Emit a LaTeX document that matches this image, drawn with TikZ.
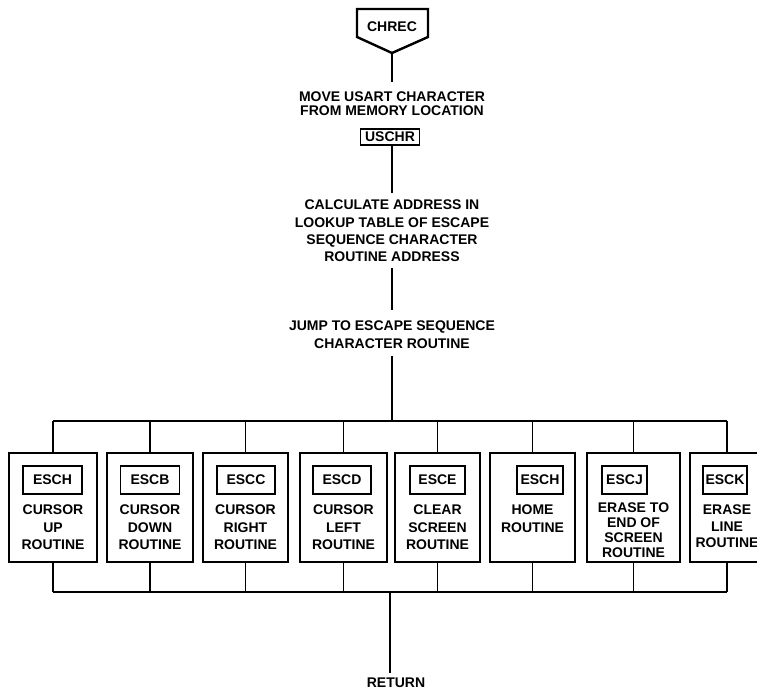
\documentclass[tikz,border=0pt]{standalone}
\usepackage{fontspec}
\setmainfont{Liberation Sans}
\usetikzlibrary{calc}
\begin{document}
\begin{tikzpicture}[x=1pt,y=-1pt,
  lbl/.style={font=\bfseries\fontsize{14}{17.3}\selectfont, align=center, inner sep=0pt, anchor=north},
  wire/.style={line width=1.4pt},
  routinebox/.style={draw, line width=2.8pt, minimum height=109pt, inner sep=0pt},
  tagbox/.style={draw, line width=1.8pt, minimum height=28pt, inner sep=0pt,
    font=\bfseries\fontsize{14}{17}\selectfont},
]
\useasboundingbox (0,0) rectangle (757,692);
\clip (0,0) rectangle (757,692);

% entry point
\node[font=\bfseries\fontsize{14}{17}\selectfont, inner sep=0pt] (chrec) at (392,27) {CHREC};
\draw[line width=2.4pt, line join=miter]
  ($(chrec)+(-35,-18)$) -- ($(chrec)+(36,-18)$) -- ($(chrec)+(36,10)$)
  -- ($(chrec)+(0,26)$) -- ($(chrec)+(-35,10)$) -- cycle;
\coordinate (chrecTip) at ($(chrec)+(0,26)$);

% processing steps
\node[lbl, font=\bfseries\fontsize{14}{13.8}\selectfont] (move) at (392,92)
  {MOVE USART CHARACTER\\FROM MEMORY LOCATION};
\node[tagbox, minimum width=59pt, minimum height=16pt, line width=1.6pt] (uschr) at (390,137) {USCHR};
\node[lbl] (calc) at (392,200)
  {CALCULATE ADDRESS IN\\LOOKUP TABLE OF ESCAPE\\SEQUENCE CHARACTER\\ROUTINE ADDRESS};
\node[lbl] (jump) at (392,321) {JUMP TO ESCAPE SEQUENCE\\CHARACTER ROUTINE};

\draw[wire, shorten >=10pt] (chrecTip) -- (move.north);
\draw[wire, shorten >=7pt] (uschr.south -| chrecTip) -- (calc.north);
\draw[wire, shorten <=6pt, shorten >=11pt] (calc.south) -- (jump.north);

% routine boxes
\foreach \n/\cx/\w/\tx/\tw/\tag/\ty/\ls/\txt in {
  1/53/88/52.5/59/ESCH/505/17.5/{CURSOR\\UP\\ROUTINE},
  2/150/86/150/59/ESCB/505/17.5/{CURSOR\\DOWN\\ROUTINE},
  3/245.5/85/246/58/ESCC/505/17.5/{CURSOR\\RIGHT\\ROUTINE},
  4/343.5/87/342/58/ESCD/505/17.5/{CURSOR\\LEFT\\ROUTINE},
  5/437.5/85/437.5/55/ESCE/505/17.5/{CLEAR\\SCREEN\\ROUTINE},
  6/532.5/85/540/46/ESCH/505/17.5/{HOME\\ROUTINE},
  7/633.5/93/624.5/45/ESCJ/503/14.7/{ERASE TO\\END OF\\SCREEN\\ROUTINE},
  8/727/74/725/44/ESCK/505/16.5/{ERASE\\LINE\\ROUTINE}} {
  \node[routinebox, minimum width=\w pt] (b\n) at (\cx,507.5) {};
  \node[tagbox, minimum width=\tw pt] (tag\n) at (\tx,480) {\tag};
  \node[lbl, font=\bfseries\fontsize{14}{\ls}\selectfont] (txt\n) at (\cx,\ty) {\txt};
}

% dispatch bus
\coordinate (busTop) at (392,421);
\draw[wire, shorten <=7pt] (jump.south) -- (busTop);
\draw[wire] (b1.north |- busTop) -- (b8.north |- busTop);
\foreach \n in {1,...,8} \draw[wire] (b\n.north |- busTop) -- (b\n.north);

% return bus
\coordinate (busBot) at (390,592);
\draw[wire] (b1.south |- busBot) -- (b8.south |- busBot);
\foreach \n in {1,...,8} \draw[wire] (b\n.south) -- (b\n.south |- busBot);
\node[font=\bfseries\fontsize{14}{17}\selectfont, inner sep=0pt] (ret) at (396,683) {RETURN};
\draw[wire, shorten >=5pt] (busBot) -- (ret.north -| busBot);
\end{tikzpicture}
\end{document}
